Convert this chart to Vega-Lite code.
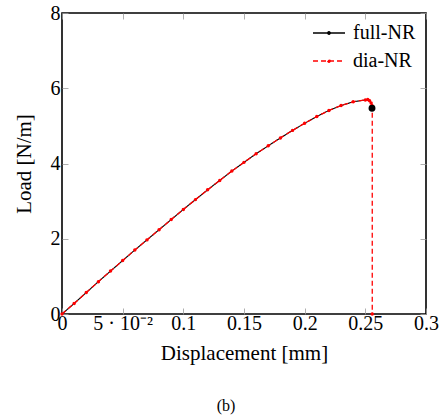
{
  "$schema": "https://vega.github.io/schema/vega-lite/v6.json",
  "width": 364,
  "height": 301,
  "autosize": {"type": "none"},
  "padding": {"left": 62, "top": 13, "right": 14, "bottom": 101},
  "background": "white",
  "title": {
    "text": "(b)",
    "orient": "bottom",
    "anchor": "middle",
    "font": "Liberation Serif",
    "fontSize": 16,
    "fontWeight": "normal",
    "color": "black",
    "offset": 35,
    "dx": -18
  },
  "config": {
    "view": {"stroke": "black", "strokeWidth": 1.6},
    "axis": {
      "domain": false,
      "grid": false,
      "tickSize": -6,
      "tickColor": "#9a9a9a",
      "tickWidth": 0.8,
      "labelFont": "Liberation Serif",
      "labelFontSize": 20,
      "labelColor": "black",
      "titleFont": "Liberation Serif",
      "titleFontSize": 21,
      "titleFontWeight": "normal",
      "titleColor": "black",
      "labelOverlap": false,
      "labelFlush": false,
      "labelBound": false
    },
    "legend": {
      "labelFont": "Liberation Serif",
      "labelFontSize": 20,
      "labelColor": "black"
    }
  },
  "datasets": {
    "curves": [
      {"series": "full-NR", "i": 0, "d": 0.0, "load": 0.0},
      {"series": "full-NR", "i": 1, "d": 0.01, "load": 0.28},
      {"series": "full-NR", "i": 2, "d": 0.02, "load": 0.57},
      {"series": "full-NR", "i": 3, "d": 0.03, "load": 0.86},
      {"series": "full-NR", "i": 4, "d": 0.04, "load": 1.14},
      {"series": "full-NR", "i": 5, "d": 0.05, "load": 1.42},
      {"series": "full-NR", "i": 6, "d": 0.06, "load": 1.7},
      {"series": "full-NR", "i": 7, "d": 0.07, "load": 1.97},
      {"series": "full-NR", "i": 8, "d": 0.08, "load": 2.24},
      {"series": "full-NR", "i": 9, "d": 0.09, "load": 2.51},
      {"series": "full-NR", "i": 10, "d": 0.1, "load": 2.78},
      {"series": "full-NR", "i": 11, "d": 0.11, "load": 3.04},
      {"series": "full-NR", "i": 12, "d": 0.12, "load": 3.3},
      {"series": "full-NR", "i": 13, "d": 0.13, "load": 3.55},
      {"series": "full-NR", "i": 14, "d": 0.14, "load": 3.8},
      {"series": "full-NR", "i": 15, "d": 0.15, "load": 4.03},
      {"series": "full-NR", "i": 16, "d": 0.16, "load": 4.26},
      {"series": "full-NR", "i": 17, "d": 0.17, "load": 4.47},
      {"series": "full-NR", "i": 18, "d": 0.18, "load": 4.68},
      {"series": "full-NR", "i": 19, "d": 0.19, "load": 4.88},
      {"series": "full-NR", "i": 20, "d": 0.2, "load": 5.07},
      {"series": "full-NR", "i": 21, "d": 0.21, "load": 5.25},
      {"series": "full-NR", "i": 22, "d": 0.22, "load": 5.41},
      {"series": "full-NR", "i": 23, "d": 0.23, "load": 5.54},
      {"series": "full-NR", "i": 24, "d": 0.24, "load": 5.64},
      {"series": "full-NR", "i": 25, "d": 0.25, "load": 5.69},
      {"series": "full-NR", "i": 26, "d": 0.252, "load": 5.7},
      {"series": "full-NR", "i": 27, "d": 0.2535, "load": 5.67},
      {"series": "full-NR", "i": 28, "d": 0.2548, "load": 5.61},
      {"series": "full-NR", "i": 29, "d": 0.2555, "load": 5.54},
      {"series": "full-NR", "i": 30, "d": 0.2557, "load": 5.47},
      {"series": "dia-NR", "i": 0, "d": 0.0, "load": 0.0},
      {"series": "dia-NR", "i": 1, "d": 0.01, "load": 0.28},
      {"series": "dia-NR", "i": 2, "d": 0.02, "load": 0.57},
      {"series": "dia-NR", "i": 3, "d": 0.03, "load": 0.86},
      {"series": "dia-NR", "i": 4, "d": 0.04, "load": 1.14},
      {"series": "dia-NR", "i": 5, "d": 0.05, "load": 1.42},
      {"series": "dia-NR", "i": 6, "d": 0.06, "load": 1.7},
      {"series": "dia-NR", "i": 7, "d": 0.07, "load": 1.97},
      {"series": "dia-NR", "i": 8, "d": 0.08, "load": 2.24},
      {"series": "dia-NR", "i": 9, "d": 0.09, "load": 2.51},
      {"series": "dia-NR", "i": 10, "d": 0.1, "load": 2.78},
      {"series": "dia-NR", "i": 11, "d": 0.11, "load": 3.04},
      {"series": "dia-NR", "i": 12, "d": 0.12, "load": 3.3},
      {"series": "dia-NR", "i": 13, "d": 0.13, "load": 3.55},
      {"series": "dia-NR", "i": 14, "d": 0.14, "load": 3.8},
      {"series": "dia-NR", "i": 15, "d": 0.15, "load": 4.03},
      {"series": "dia-NR", "i": 16, "d": 0.16, "load": 4.26},
      {"series": "dia-NR", "i": 17, "d": 0.17, "load": 4.47},
      {"series": "dia-NR", "i": 18, "d": 0.18, "load": 4.68},
      {"series": "dia-NR", "i": 19, "d": 0.19, "load": 4.88},
      {"series": "dia-NR", "i": 20, "d": 0.2, "load": 5.07},
      {"series": "dia-NR", "i": 21, "d": 0.21, "load": 5.25},
      {"series": "dia-NR", "i": 22, "d": 0.22, "load": 5.41},
      {"series": "dia-NR", "i": 23, "d": 0.23, "load": 5.54},
      {"series": "dia-NR", "i": 24, "d": 0.24, "load": 5.64},
      {"series": "dia-NR", "i": 25, "d": 0.25, "load": 5.69},
      {"series": "dia-NR", "i": 26, "d": 0.252, "load": 5.7},
      {"series": "dia-NR", "i": 27, "d": 0.2535, "load": 5.67},
      {"series": "dia-NR", "i": 28, "d": 0.2548, "load": 5.61},
      {"series": "dia-NR", "i": 29, "d": 0.2555, "load": 5.54},
      {"series": "dia-NR", "i": 30, "d": 0.2557, "load": 5.47},
      {"series": "dia-NR", "i": 31, "d": 0.2557, "load": 0.0}
    ],
    "endpoint": [
      {"d": 0.2555, "load": 5.47}
    ]
  },
  "layer": [
    {
      "data": {"name": "curves"},
      "transform": [{"filter": "datum.series === 'full-NR'"}],
      "mark": {"type": "line", "strokeWidth": 1.1, "point": {"filled": true, "size": 3, "color": "black"}},
      "encoding": {
        "x": {
          "field": "d", "type": "quantitative",
          "scale": {"domain": [0, 0.3], "nice": false, "zero": false},
          "axis": {
            "orient": "bottom",
            "title": "Displacement [mm]",
            "values": [0, 0.05, 0.1, 0.15, 0.2, 0.25, 0.3],
            "labelExpr": "abs(datum.value - 0.05) < 1e-9 ? '5 · 10⁻²' : format(datum.value, '~g')",
            "labelPadding": 5,
            "titlePadding": 9
          }
        },
        "y": {
          "field": "load", "type": "quantitative",
          "scale": {"domain": [0, 8], "nice": false, "zero": false},
          "axis": {
            "orient": "left",
            "title": "Load [N/m]",
            "values": [0, 2, 4, 6, 8],
            "labelPadding": 8,
            "titlePadding": 16
          }
        },
        "order": {"field": "i", "type": "quantitative"},
        "color": {
          "field": "series", "type": "nominal",
          "scale": {"domain": ["full-NR", "dia-NR"], "range": ["black", "#ff0000"]},
          "legend": {
            "title": null,
            "orient": "top-right",
            "offset": 10,
            "symbolType": "M-2,0H2M-0.16,0a0.16,0.16 0 1,0 0.32,0a0.16,0.16 0 1,0 -0.32,0",
            "symbolSize": 256,
            "symbolStrokeWidth": 1.3,
            "rowPadding": 8,
            "labelOffset": 14,
            "encode": {
              "symbols": {
                "update": {
                  "fill": {"scale": "color", "field": "value"},
                  "fillOpacity": {"value": 1}
                }
              }
            }
          }
        },
        "strokeDash": {
          "field": "series", "type": "nominal",
          "scale": {"domain": ["full-NR", "dia-NR"], "range": [[1, 0], [5, 3]]},
          "legend": null
        }
      }
    },
    {
      "data": {"name": "curves"},
      "transform": [{"filter": "datum.series === 'dia-NR'"}],
      "mark": {"type": "line", "strokeWidth": 1.3, "point": {"filled": true, "size": 12, "color": "#ff0000"}},
      "encoding": {
        "x": {"field": "d", "type": "quantitative", "axis": null},
        "y": {"field": "load", "type": "quantitative", "axis": null},
        "order": {"field": "i", "type": "quantitative"},
        "color": {"field": "series", "type": "nominal"},
        "strokeDash": {"field": "series", "type": "nominal"}
      }
    },
    {
      "data": {"name": "endpoint"},
      "mark": {"type": "point", "filled": true, "color": "black", "size": 48, "opacity": 1},
      "encoding": {
        "x": {
          "field": "d", "type": "quantitative",
          "axis": {"orient": "top", "title": null, "labels": false, "values": [0, 0.05, 0.1, 0.15, 0.2, 0.25, 0.3]}
        },
        "y": {
          "field": "load", "type": "quantitative",
          "axis": {"orient": "right", "title": null, "labels": false, "values": [0, 2, 4, 6, 8]}
        }
      }
    }
  ],
  "resolve": {"axis": {"x": "independent", "y": "independent"}}
}
